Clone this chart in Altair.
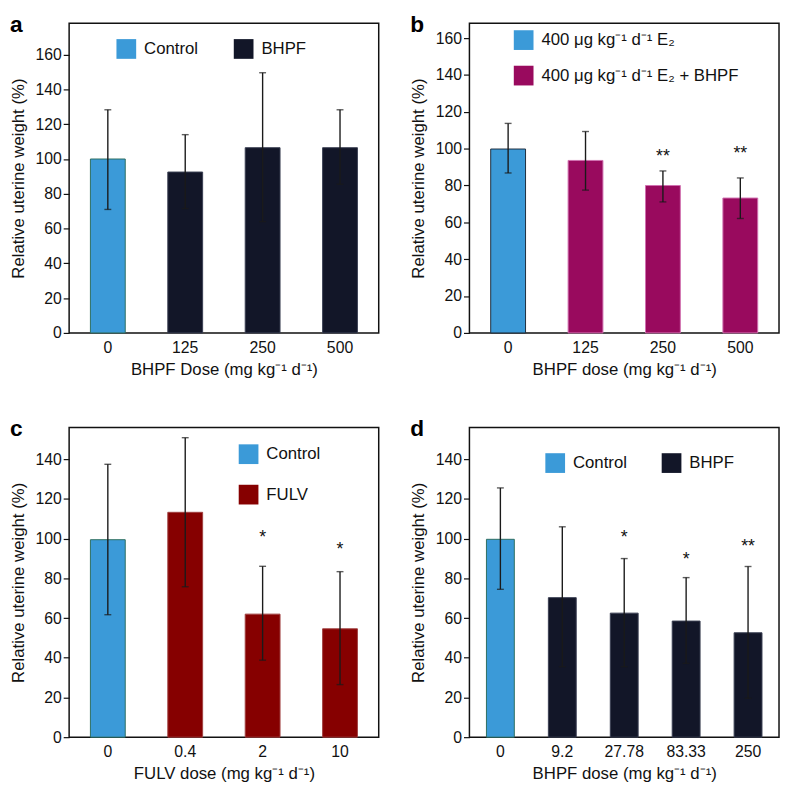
import altair as alt
import pandas as pd

FONT = "Liberation Sans"

BLUE = "#3b9ad8"
NAVY = "#121628"
MAGENTA = "#990a5e"
DARKRED = "#860000"

# ---------------- Panel a ----------------
a_doses = ["0", "125", "250", "500"]
a_groups = ["Control", "BHPF", "BHPF", "BHPF"]
a_mean = [100, 92.5, 106.5, 106.5]
a_lo = [71, 71.5, 64, 85.5]
a_hi = [128.3, 114, 149.6, 128.3]
a_star_dose = []
a_star_text = []
a_star_y = []

# ---------------- Panel b ----------------
b_doses = ["0", "125", "250", "500"]
b_leg1 = "400 μg kg⁻¹ d⁻¹ E₂"
b_leg2 = "400 μg kg⁻¹ d⁻¹ E₂ + BHPF"
b_groups = [b_leg1, b_leg2, b_leg2, b_leg2]
b_mean = [99.8, 93.6, 80, 73.2]
b_lo = [86.8, 77.5, 71.1, 62.1]
b_hi = [113.7, 109.3, 87.9, 84.1]
b_star_dose = ["250", "500"]
b_star_text = ["**", "**"]
b_star_y = [97.9, 99.6]

# ---------------- Panel c ----------------
c_doses = ["0", "0.4", "2", "10"]
c_groups = ["Control", "FULV", "FULV", "FULV"]
c_mean = [99.5, 113.3, 62, 54.6]
c_lo = [61.7, 75.8, 38.8, 26.5]
c_hi = [137.5, 150.9, 86.1, 83.4]
c_star_dose = ["2", "10"]
c_star_text = ["*", "*"]
c_star_y = [102.8, 97]

# ---------------- Panel d ----------------
d_doses = ["0", "9.2", "27.78", "83.33", "250"]
d_groups = ["Control", "BHPF", "BHPF", "BHPF", "BHPF"]
d_mean = [99.7, 70.3, 62.5, 58.5, 52.6]
d_lo = [74.5, 35.5, 35.5, 37.2, 19.6]
d_hi = [125.6, 106, 90, 80.4, 86]
d_star_dose = ["27.78", "83.33", "250"]
d_star_text = ["*", "*", "**"]
d_star_y = [102.8, 91.6, 98.2]

W = 314
H = 314


def panel(label, doses, groups, mean, lo, hi, sdose, stext, sy, ymax, yticks,
          cdomain, crange, srange, xtitle, legend):
    df = pd.DataFrame({"dose": doses, "group": groups, "mean": mean, "lo": lo, "hi": hi})
    xs = alt.Scale(domain=doses, paddingInner=0.55, paddingOuter=0.275)
    ys = alt.Scale(domain=[0, ymax], nice=False, zero=True)
    xaxis = alt.Axis(labelAngle=0, title=xtitle)
    yaxis = alt.Axis(values=yticks, title="Relative uterine weight (%)")
    base = alt.Chart(df)
    bars = base.mark_bar(strokeWidth=1).encode(
        x=alt.X("dose:N", scale=xs, sort=doses, axis=xaxis),
        y=alt.Y("mean:Q", scale=ys, axis=yaxis),
        color=alt.Color("group:N", scale=alt.Scale(domain=cdomain, range=crange),
                        legend=alt.Legend(title=None, orient="none", symbolType="square",
                                          symbolSize=400, symbolStrokeWidth=0,
                                          symbolOpacity=1, labelFontSize=17,
                                          labelFont=FONT, labelColor="#111",
                                          labelOffset=8, padding=0,
                                          labelLimit=400, **legend)),
        stroke=alt.Stroke("group:N", scale=alt.Scale(domain=cdomain, range=srange),
                          legend=None),
    )
    rules = base.mark_rule(color="#1a1a1a", strokeWidth=1.4).encode(
        x=alt.X("dose:N", scale=xs, sort=doses, axis=xaxis),
        y=alt.Y("lo:Q", scale=ys, axis=yaxis),
        y2="hi:Q",
    )
    caps_hi = base.mark_tick(color="#1a1a1a", thickness=1.4, size=7).encode(
        x=alt.X("dose:N", scale=xs, sort=doses, axis=xaxis),
        y=alt.Y("hi:Q", scale=ys, axis=yaxis),
    )
    caps_lo = base.mark_tick(color="#1a1a1a", thickness=1.4, size=7).encode(
        x=alt.X("dose:N", scale=xs, sort=doses, axis=xaxis),
        y=alt.Y("lo:Q", scale=ys, axis=yaxis),
    )
    layers = [bars, rules, caps_hi, caps_lo]
    if sdose:
        sdf = pd.DataFrame({"dose": sdose, "txt": stext, "y": sy})
        stars = alt.Chart(sdf).mark_text(fontSize=18, font=FONT, color="#111",
                                         baseline="alphabetic", dy=10).encode(
            x=alt.X("dose:N", scale=xs, sort=doses, axis=xaxis),
            y=alt.Y("y:Q", scale=ys, axis=yaxis),
            text="txt:N",
        )
        layers.append(stars)
    ldf = pd.DataFrame({"lab": [label]})
    lab = alt.Chart(ldf).mark_text(fontSize=23, fontWeight="bold", font=FONT,
                                   color="#000", align="left", baseline="top").encode(
        x=alt.value(-60), y=alt.value(-9), text="lab:N")
    layers.append(lab)
    return alt.layer(*layers).properties(width=W, height=H)


pa = panel("a", a_doses, a_groups, a_mean, a_lo, a_hi, a_star_dose, a_star_text, a_star_y,
           178, [0, 20, 40, 60, 80, 100, 120, 140, 160],
           ["Control", "BHPF"], [BLUE, NAVY], ["#2e6e60", "#3a3f52"],
           "BHPF Dose (mg kg⁻¹ d⁻¹)",
           dict(legendX=48, legendY=16, direction="horizontal", columnPadding=36))
pb = panel("b", b_doses, b_groups, b_mean, b_lo, b_hi, b_star_dose, b_star_text, b_star_y,
           168, [0, 20, 40, 60, 80, 100, 120, 140, 160],
           [b_leg1, b_leg2], [BLUE, MAGENTA], ["#1e2e3e", "#d070b0"],
           "BHPF dose (mg kg⁻¹ d⁻¹)",
           dict(legendX=45, legendY=7, direction="vertical", rowPadding=16))
pc = panel("c", c_doses, c_groups, c_mean, c_lo, c_hi, c_star_dose, c_star_text, c_star_y,
           156, [0, 20, 40, 60, 80, 100, 120, 140],
           ["Control", "FULV"], [BLUE, DARKRED], ["#2e6e60", "#a04040"],
           "FULV dose (mg kg⁻¹ d⁻¹)",
           dict(legendX=172, legendY=17, direction="vertical", rowPadding=21))
pd_ = panel("d", d_doses, d_groups, d_mean, d_lo, d_hi, d_star_dose, d_star_text, d_star_y,
            156, [0, 20, 40, 60, 80, 100, 120, 140],
            ["Control", "BHPF"], [BLUE, NAVY], ["#2e6e60", "#3a3f52"],
            "BHPF dose (mg kg⁻¹ d⁻¹)",
            dict(legendX=77, legendY=26, direction="horizontal", columnPadding=35))

chart = alt.concat(
    pa, pb, pc, pd_, columns=2, spacing={"row": 40, "column": 29}
).resolve_scale(
    x="independent", y="independent", color="independent", stroke="independent"
).resolve_axis(
    x="independent", y="independent"
).resolve_legend(
    color="independent"
).properties(
    padding=0
).configure_view(
    stroke="#111", strokeWidth=1.5
).configure_axisX(
    ticks=False, domain=False, labelPadding=7, labelFontSize=16, titleFontSize=17,
    titlePadding=6, labelColor="#111", titleColor="#111", labelFont=FONT,
    titleFont=FONT, titleFontWeight="normal", grid=False
).configure_axisY(
    tickSize=6, tickColor="#111", tickWidth=1.2, domain=False, grid=False,
    labelFontSize=16, titleFontSize=17, labelPadding=2, titlePadding=8,
    labelColor="#111", titleColor="#111", labelFont=FONT, titleFont=FONT,
    titleFontWeight="normal"
)

chart.save("out.html", embed_options={"renderer": "svg", "actions": False})
